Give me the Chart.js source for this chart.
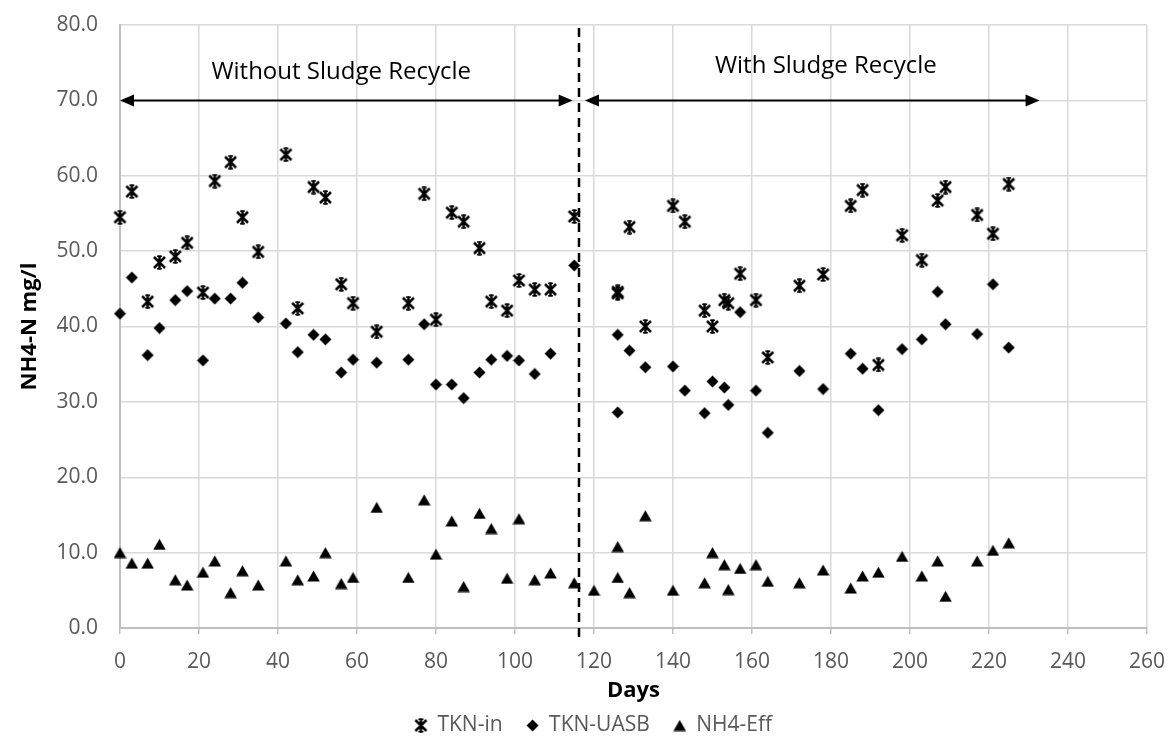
<!DOCTYPE html>
<html>
<head>
<meta charset="utf-8">
<script src="https://cdn.jsdelivr.net/npm/chart.js@4.4.1/dist/chart.umd.min.js"></script>
<style>
  html, body { margin: 0; padding: 0; background: #fff; }
  #wrap { width: 1168px; height: 738px; }
</style>
</head>
<body>
<div id="wrap"><canvas id="nitrogenChart" width="1168" height="738"></canvas></div>
<script>
// Values (mg/l against days of operation)
const days = [0, 3, 7, 10, 14, 17, 21, 24, 28, 31, 35, 42, 45, 49, 52, 56, 59, 65, 73, 77,
    80, 84, 87, 91, 94, 98, 101, 105, 109, 115, 126, 126, 129, 133, 140, 143, 148, 150, 153, 154,
    157, 161, 164, 172, 178, 185, 188, 192, 198, 203, 207, 209, 217, 221, 225];
const tknIn = [54.5, 57.9, 43.3, 48.5, 49.3, 51.1, 44.5, 59.3, 61.8, 54.5, 49.9, 62.8, 42.4, 58.5, 57.1, 45.6, 43.1, 39.3, 43.1, 57.6,
    40.9, 55.1, 53.9, 50.4, 43.3, 42.1, 46.1, 44.9, 44.9, 54.6, 44.6, 44.4, 53.2, 40.0, 56.0, 53.9, 42.1, 40.0, 43.5, 43.1,
    47.0, 43.5, 35.9, 45.4, 46.9, 56.0, 58.1, 34.9, 52.1, 48.8, 56.7, 58.5, 54.8, 52.3, 58.9];
const tknUasb = [41.7, 46.5, 36.2, 39.8, 43.5, 44.7, 35.5, 43.7, 43.7, 45.8, 41.2, 40.4, 36.6, 38.9, 38.3, 33.9, 35.6, 35.2, 35.6, 40.3,
    32.3, 32.3, 30.5, 33.9, 35.6, 36.1, 35.5, 33.7, 36.4, 48.1, 38.9, 28.6, 36.8, 34.6, 34.7, 31.5, 28.5, 32.7, 31.9, 29.6,
    41.9, 31.5, 25.9, 34.1, 31.7, 36.4, 34.4, 28.9, 37.0, 38.3, 44.6, 40.3, 39.0, 45.6, 37.2];
const nh4Days = [0, 3, 7, 10, 14, 17, 21, 24, 28, 31, 35, 42, 45, 49, 52, 56, 59, 65, 73, 77,
    80, 84, 87, 91, 94, 98, 101, 105, 109, 115, 120, 126, 126, 129, 133, 140, 148, 150, 153, 154,
    157, 161, 164, 172, 178, 185, 188, 192, 198, 203, 207, 209, 217, 221, 225];
const nh4Eff = [10.0, 8.6, 8.6, 11.1, 6.4, 5.7, 7.4, 8.9, 4.7, 7.6, 5.7, 8.9, 6.4, 6.9, 10.0, 5.9, 6.7, 16.0, 6.7, 17.0,
    9.8, 14.2, 5.5, 15.2, 13.2, 6.6, 14.5, 6.4, 7.3, 6.0, 5.0, 10.8, 6.7, 4.7, 14.9, 5.0, 6.0, 10.0, 8.4, 5.1,
    7.9, 8.4, 6.2, 6.0, 7.7, 5.3, 6.9, 7.4, 9.5, 6.9, 8.9, 4.2, 8.9, 10.3, 11.3];
const seriesNames = ['TKN-in', 'TKN-UASB', 'NH4-Eff'];
const xRange = [0, 260];
const yRange = [0, 80];

// the two operating phases marked above the data
const switchDay = 116.3;
const phases = [
    { text: 'Without Sludge Recycle', from: 0, to: 114.6, textX: 56, textY: 73.7 },
    { text: 'With Sludge Recycle', from: 117.7, to: 232.8, textX: 178.7, textY: 74.5 }
];
const phaseArrowY = 70;

Chart.defaults.font.family = "'Open Sans', sans-serif";

// Excel-style markers drawn on small canvases
function makeMarker(w, h, draw) {
    const c = document.createElement('canvas');
    c.width = w;
    c.height = h;
    const g = c.getContext('2d');
    g.fillStyle = '#000';
    g.strokeStyle = '#000';
    draw(g);
    return c;
}

const starMarker = makeMarker(15, 15, g => {
    g.lineWidth = 2.5;
    g.beginPath();
    g.moveTo(2, 2); g.lineTo(13, 13);
    g.moveTo(13, 2); g.lineTo(2, 13);
    g.moveTo(7.5, 0.5); g.lineTo(7.5, 14.5);
    g.stroke();
    g.lineWidth = 1.6;
    g.beginPath();
    g.moveTo(5, 1.2); g.lineTo(10, 1.2);
    g.moveTo(5, 13.8); g.lineTo(10, 13.8);
    g.stroke();
});

const diamondMarker = makeMarker(13, 13, g => {
    g.beginPath();
    g.moveTo(6.5, 0.5);
    g.lineTo(12.5, 6.5);
    g.lineTo(6.5, 12.5);
    g.lineTo(0.5, 6.5);
    g.closePath();
    g.fill();
});

const triangleMarker = makeMarker(13, 12, g => {
    g.beginPath();
    g.moveTo(6.5, 0.5);
    g.lineTo(12.8, 11.5);
    g.lineTo(0.2, 11.5);
    g.closePath();
    g.fill();
});

function toPoints(xs, ys) {
    return xs.map((x, i) => ({ x: x, y: ys[i] }));
}

const phasePlugin = {
    id: 'phases',
    afterLayout(chart) {
        // Excel put the legend a little right of the canvas centre
        chart.legend.left += 20;
        chart.legend.right += 20;
    },
    afterDatasetsDraw(chart) {
        const ctx = chart.ctx;
        const xs = chart.scales.x;
        const ys = chart.scales.y;
        ctx.save();

        // dashed divider
        const dx = Math.round(xs.getPixelForValue(switchDay));
        ctx.strokeStyle = '#000';
        ctx.lineWidth = 2.5;
        ctx.setLineDash([9, 6]);
        ctx.beginPath();
        ctx.moveTo(dx, ys.getPixelForValue(yRange[1]) + 3);
        ctx.lineTo(dx, ys.getPixelForValue(yRange[0]) + 14);
        ctx.stroke();
        ctx.setLineDash([]);

        const ay = ys.getPixelForValue(phaseArrowY);
        phases.forEach(p => {
            const x1 = xs.getPixelForValue(p.from);
            const x2 = xs.getPixelForValue(p.to);
            const head = 14, half = 6;
            ctx.lineWidth = 2;
            ctx.beginPath();
            ctx.moveTo(x1 + head - 2, ay);
            ctx.lineTo(x2 - head + 2, ay);
            ctx.stroke();
            ctx.fillStyle = '#000';
            ctx.beginPath();
            ctx.moveTo(x1, ay);
            ctx.lineTo(x1 + head, ay - half);
            ctx.lineTo(x1 + head, ay + half);
            ctx.closePath();
            ctx.fill();
            ctx.beginPath();
            ctx.moveTo(x2, ay);
            ctx.lineTo(x2 - head, ay - half);
            ctx.lineTo(x2 - head, ay + half);
            ctx.closePath();
            ctx.fill();

            ctx.font = "24px 'Open Sans', sans-serif";
            ctx.textAlign = 'center';
            ctx.textBaseline = 'middle';
            ctx.fillText(p.text, xs.getPixelForValue(p.textX), ys.getPixelForValue(p.textY));
        });
        ctx.restore();
    }
};

new Chart(document.getElementById('nitrogenChart'), {
    type: 'scatter',
    data: {
        datasets: [{
            label: seriesNames[0],
            data: toPoints(days, tknIn),
            pointStyle: starMarker,
            clip: false
        }, {
            label: seriesNames[1],
            data: toPoints(days, tknUasb),
            pointStyle: diamondMarker,
            clip: false
        }, {
            label: seriesNames[2],
            data: toPoints(nh4Days, nh4Eff),
            pointStyle: triangleMarker,
            clip: false
        }]
    },
    options: {
        responsive: false,
        animation: false,
        devicePixelRatio: 1,
        layout: {
            padding: { top: 25, right: 21, bottom: -8, left: 0 }
        },
        scales: {
            x: {
                type: 'linear',
                min: xRange[0],
                max: xRange[1],
                ticks: {
                    stepSize: 20,
                    color: '#595959',
                    font: { size: 21 },
                    padding: 15
                },
                grid: {
                    color: '#d9d9d9',
                    lineWidth: 1.5,
                    tickLength: 6,
                    tickColor: '#bfbfbf'
                },
                border: { color: '#bfbfbf', width: 2 },
                title: {
                    display: true,
                    text: 'Days',
                    color: '#000',
                    font: { size: 22, weight: 'bold' },
                    padding: { top: 0, bottom: -13 }
                },
                afterFit: scale => {
                    scale.height = 63;
                    scale.paddingLeft = 0;
                    scale.paddingRight = 0;
                }
            },
            y: {
                min: yRange[0],
                max: yRange[1],
                ticks: {
                    stepSize: 10,
                    color: '#595959',
                    font: { size: 21 },
                    padding: 22,
                    callback: v => v.toFixed(1)
                },
                grid: {
                    color: '#d9d9d9',
                    lineWidth: 1.5,
                    drawTicks: false
                },
                border: { color: '#bfbfbf', width: 2 },
                title: {
                    display: true,
                    text: 'NH4-N mg/l',
                    color: '#000',
                    font: { size: 22, weight: 'bold' },
                    padding: { top: 17, bottom: 8 }
                },
                afterFit: scale => {
                    scale.width = 120;
                    scale.paddingTop = 0;
                    scale.paddingBottom = 0;
                }
            }
        },
        plugins: {
            legend: {
                position: 'bottom',
                labels: {
                    usePointStyle: true,
                    boxWidth: 12,
                    padding: 24,
                    color: '#595959',
                    font: { size: 21 }
                }
            },
            tooltip: { enabled: false }
        }
    },
    plugins: [phasePlugin]
});
</script>
</body>
</html>
